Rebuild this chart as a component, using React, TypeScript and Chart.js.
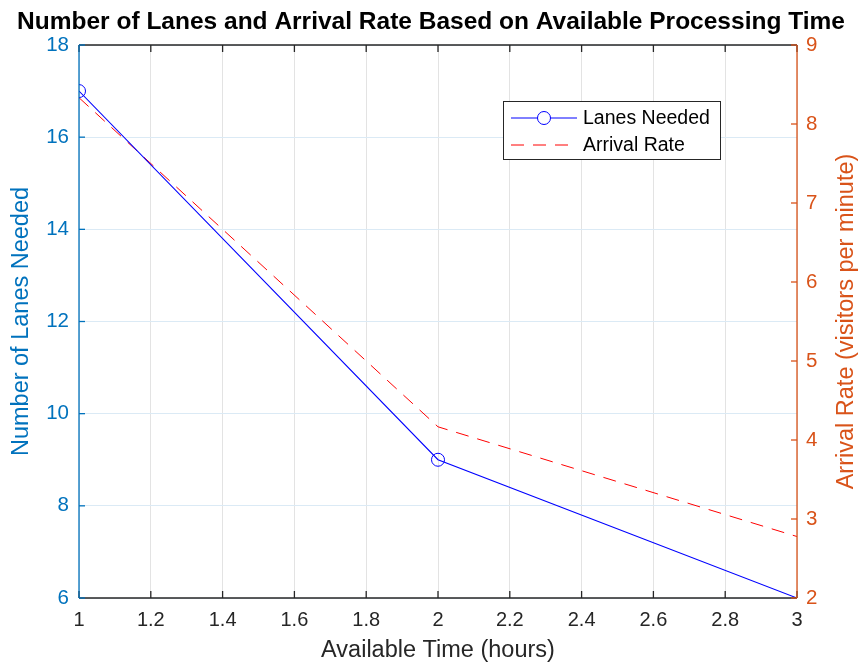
import React, { useEffect, useRef } from 'react';
import { Chart, registerables } from 'chart.js';

Chart.register(...registerables);

const availableTime = [1, 2, 3];
const lanesNeeded = [17, 9, 6];
const arrivalRate = [8.333, 4.167, 2.778];
const xTicks = [1, 1.2, 1.4, 1.6, 1.8, 2, 2.2, 2.4, 2.6, 2.8, 3];
const leftTicks = [6, 8, 10, 12, 14, 16, 18];
const rightTicks = [2, 3, 4, 5, 6, 7, 8, 9];
const chartTitle = 'Number of Lanes and Arrival Rate Based on Available Processing Time';
const xTitle = 'Available Time (hours)';
const leftTitle = 'Number of Lanes Needed';
const rightTitle = 'Arrival Rate (visitors per minute)';
const seriesNames = ['Lanes Needed', 'Arrival Rate'];

const FONT = '"Liberation Sans", Arial, Helvetica, sans-serif';
const AX_BLUE = '#0072BD';
const AX_ORANGE = '#D95319';
const DARK = '#262626';
const DASH = [13, 9];

const overlay = {
  id: 'overlay',
  afterDraw(chart: any) {
    const { ctx, chartArea: a, scales } = chart;
    const line = (x1: number, y1: number, x2: number, y2: number) => {
      ctx.beginPath();
      ctx.moveTo(x1, y1);
      ctx.lineTo(x2, y2);
      ctx.stroke();
    };
    ctx.save();
    ctx.setLineDash([]);
    ctx.lineWidth = 1.3;
    ctx.strokeStyle = DARK;
    line(a.left, a.top, a.right, a.top);
    line(a.left, a.bottom, a.right, a.bottom);
    xTicks.forEach((v) => {
      const x = scales.x.getPixelForValue(v);
      line(x, a.bottom, x, a.bottom - 7);
      line(x, a.top, x, a.top + 7);
    });
    ctx.strokeStyle = AX_BLUE;
    line(a.left, a.top, a.left, a.bottom);
    leftTicks.forEach((v) => {
      const y = scales.y.getPixelForValue(v);
      line(a.left, y, a.left + 6, y);
    });
    ctx.strokeStyle = AX_ORANGE;
    line(a.right, a.top, a.right, a.bottom);
    rightTicks.forEach((v) => {
      const y = scales.y1.getPixelForValue(v);
      line(a.right, y, a.right - 6, y);
    });

    // titles
    ctx.textAlign = 'center';
    ctx.textBaseline = 'middle';
    ctx.fillStyle = '#000000';
    ctx.font = `bold 24.5px ${FONT}`;
    ctx.fillText(chartTitle, 431, 22);
    ctx.fillStyle = DARK;
    ctx.font = `23.5px ${FONT}`;
    ctx.fillText(xTitle, (a.left + a.right) / 2, 651);
    const cy = (a.top + a.bottom) / 2;
    ctx.save();
    ctx.translate(22, cy);
    ctx.rotate(-Math.PI / 2);
    ctx.fillStyle = AX_BLUE;
    ctx.fillText(leftTitle, 0, 0);
    ctx.restore();
    ctx.save();
    ctx.translate(847, cy);
    ctx.rotate(-Math.PI / 2);
    ctx.fillStyle = AX_ORANGE;
    ctx.fillText(rightTitle, 0, 0);
    ctx.restore();

    // legend
    const lx = 503, ly = 101, lw = 217, lh = 58;
    ctx.fillStyle = '#ffffff';
    ctx.fillRect(lx, ly, lw, lh);
    ctx.strokeStyle = DARK;
    ctx.lineWidth = 1;
    ctx.strokeRect(lx + 0.5, ly + 0.5, lw, lh);
    const r1 = 118, r2 = 145;
    ctx.strokeStyle = '#0000ff';
    line(511, r1, 577, r1);
    ctx.fillStyle = '#ffffff';
    ctx.beginPath();
    ctx.arc(544, r1, 6.5, 0, Math.PI * 2);
    ctx.fill();
    ctx.stroke();
    ctx.strokeStyle = '#ff0000';
    ctx.setLineDash(DASH);
    line(511, r2, 577, r2);
    ctx.setLineDash([]);
    ctx.fillStyle = '#000000';
    ctx.textAlign = 'left';
    ctx.font = `19.5px ${FONT}`;
    ctx.fillText(seriesNames[0], 583, r1 + 1);
    ctx.fillText(seriesNames[1], 583, r2 + 1);
    ctx.restore();
  },
};

export default function App() {
  const ref = useRef<HTMLCanvasElement | null>(null);
  useEffect(() => {
    if (!ref.current) return;
    const chart = new Chart(ref.current, {
      type: 'line',
      data: {
        datasets: [
          {
            label: seriesNames[0],
            data: availableTime.map((x, i) => ({ x, y: lanesNeeded[i] })),
            yAxisID: 'y',
            borderColor: '#0000ff',
            borderWidth: 1.1,
            pointStyle: 'circle',
            pointRadius: [6.5, 6.5, 0],
            pointBorderColor: '#0000ff',
            pointBackgroundColor: 'rgba(0,0,0,0)',
            pointBorderWidth: 1,
            tension: 0,
            fill: false,
          },
          {
            label: seriesNames[1],
            data: availableTime.map((x, i) => ({ x, y: arrivalRate[i] })),
            yAxisID: 'y1',
            borderColor: '#ff0000',
            borderWidth: 1,
            borderDash: DASH,
            pointRadius: 0,
            tension: 0,
            fill: false,
          },
        ],
      },
      options: {
        animation: false,
        responsive: false,
        layout: { padding: { top: 45, left: 0, right: 0, bottom: 0 } },
        plugins: { legend: { display: false }, title: { display: false }, tooltip: { enabled: false } },
        scales: {
          x: {
            type: 'linear',
            min: 1,
            max: 3,
            afterBuildTicks: (s: any) => { s.ticks = xTicks.map((v) => ({ value: v })); },
            afterFit: (s: any) => { s.height = 64; },
            ticks: {
              callback: (v: any) => String(v),
              color: DARK,
              font: { family: FONT, size: 20 },
              padding: 10,
              maxRotation: 0,
              autoSkip: false,
            },
            grid: { color: '#e3e3e3', lineWidth: 1, drawTicks: false },
            border: { display: false },
          },
          y: {
            position: 'left',
            min: 6,
            max: 18,
            afterBuildTicks: (s: any) => { s.ticks = leftTicks.map((v) => ({ value: v })); },
            afterFit: (s: any) => { s.width = 79; },
            ticks: { color: AX_BLUE, font: { family: FONT, size: 20.5 }, padding: 10 },
            grid: { color: '#dbeaf5', lineWidth: 1, drawTicks: false },
            border: { display: false },
          },
          y1: {
            position: 'right',
            min: 2,
            max: 9,
            afterBuildTicks: (s: any) => { s.ticks = rightTicks.map((v) => ({ value: v })); },
            afterFit: (s: any) => { s.width = 61; },
            ticks: { color: AX_ORANGE, font: { family: FONT, size: 20.5 }, padding: 9 },
            grid: { display: false, drawTicks: false },
            border: { display: false },
          },
        },
      },
      plugins: [overlay],
    });
    return () => chart.destroy();
  }, []);
  return (
    <div style={{ position: 'absolute', left: 0, top: 0, width: 858, height: 662 }}>
      <canvas ref={ref} width={858} height={662} style={{ display: 'block' }} />
    </div>
  );
}
